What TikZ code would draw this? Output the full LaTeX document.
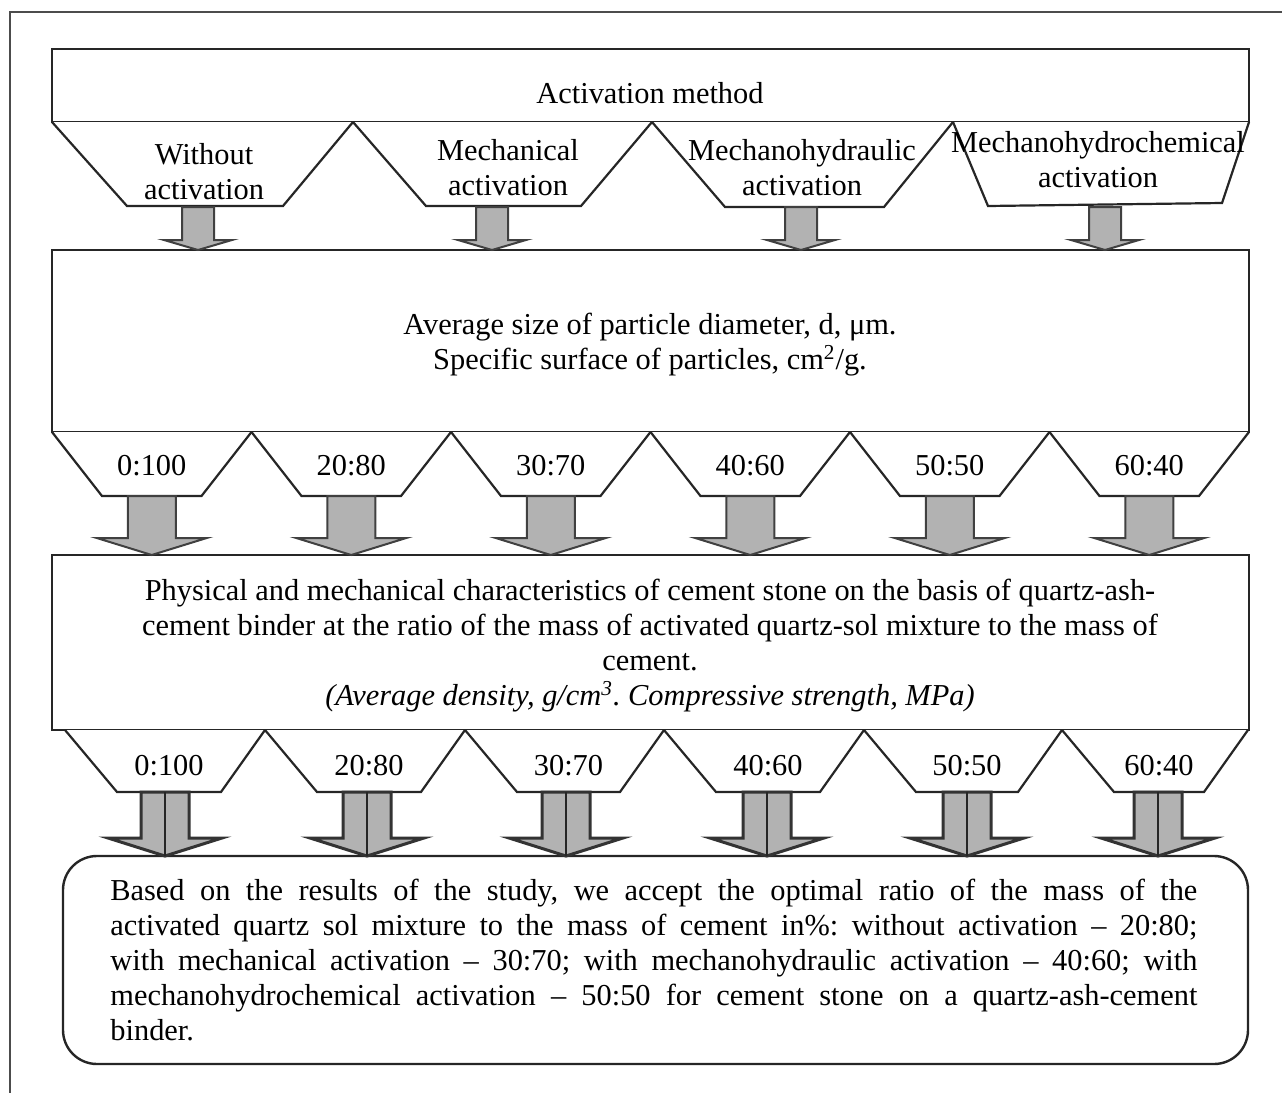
\documentclass[tikz,border=0pt]{standalone}
\usepackage{fontspec}
\setmainfont{Liberation Serif}
\newcommand\barr[7]{\draw[#7] ({#1-#5},#2) -- ({#1+#5},#2) -- ({#1+#5},#3) -- ({#1+#6},#3) -- (#1,#4) -- ({#1-#6},#3) -- ({#1-#5},#3) -- cycle;}
\begin{document}
\frenchspacing
\begin{tikzpicture}[x=0.5pt,y=-0.5pt,
  box/.style={draw=black!85,line width=1.2pt},
  trap/.style={draw=black!85,line width=1.1pt,fill=white,line join=miter},
  arr/.style={draw=black!75,fill=black!30,line width=1pt},
  arrb/.style={draw=black!80,fill=black!30,line width=1.5pt},
  txt/.style={font=\fontsize{15.2}{17.5}\selectfont,align=center,inner sep=0pt},
]
\useasboundingbox (0,0) rectangle (1282,1093);
% outer frame
\draw[black!70,line width=0.8pt] (10,1093) -- (10,12) -- (1282,12);

% box 1
\draw[box] (52,49) rectangle (1249,122);
\node[txt] (am) at (650,93) {Activation method};

% top trapezoids
\draw[trap] (52,122) -- (127,206) -- (283,206) -- (353,122);
\draw[trap] (353,122) -- (426,206) -- (581,206) -- (652,122);
\draw[trap] (652,122) -- (725,207) -- (884,207) -- (953,122);
\draw[trap] (953,122) -- (988,206) -- (1222,203) -- (1249,122);
\node[txt] (t1) at (204,172) {Without\\activation};
\node[txt] (t2) at (508,168) {Mechanical\\activation};
\node[txt] (t3) at (802,168) {Mechanohydraulic\\activation};
\node[txt] (t4) at (1098,160) {Mechanohydrochemical\\activation};

% box 2
\draw[box] (52,250) rectangle (1249,432);
\node[txt] (ps) at (650,345) {Average size of particle diameter, d, μm.\\Specific surface of particles, cm\textsuperscript{2}/g.};

% middle trapezoids
\foreach \i/\lab in {0/0:100,1/20:80,2/30:70,3/40:60,4/50:50,5/60:40}{
  \pgfmathsetmacro\a{52+199.5*\i}
  \pgfmathsetmacro\b{52+199.5*(\i+1)}
  \pgfmathsetmacro\c{52+199.5*(\i+0.5)}
  \draw[trap] (\a,432) -- ({\a+50},496) -- ({\b-50},496) -- (\b,432);
  \node[txt] (m\i) at (\c,466) {\lab};
}

% box 3
\draw[box] (52,555) rectangle (1249,730);
\node[txt] (pm) at (650,646) {Physical and mechanical characteristics of cement stone on the basis of quartz-ash-\\
cement binder at the ratio of the mass of activated quartz-sol mixture to the mass of\\
cement.\\
\textit{(Average density, g/cm\textsuperscript{3}. Compressive strength, MPa)}};

% bottom trapezoids
\foreach \a/\b/\lab/\i in {65/265/0:100/0,265/465/20:80/1,465/664/30:70/2,664/864/40:60/3,864/1062/50:50/4,1062/1248/60:40/5}{
  \draw[trap] (\a,730) -- ({\a+52},792) -- ({\b-44},792) -- (\b,730);
  \node[txt] (b\i) at ({(\a+\b)/2+4},766) {\lab};
}

% bottom rounded box
\draw[box,rounded corners=17pt] (63,856) rectangle (1248,1064);
\node[txt,anchor=north west,text width=543.5pt,align=justify] (res) at (110,879)
{\spaceskip=0.25em plus 1em minus 0.12em\tolerance=10000\hyphenpenalty=10000
Based on the results of the study, we accept the optimal ratio of the mass of the\linebreak
activated quartz sol mixture to the mass of cement in\%: without activation – 20:80;\linebreak
with mechanical activation – 30:70; with mechanohydraulic activation – 40:60; with\linebreak
mechanohydrochemical activation – 50:50 for cement stone on a quartz-ash-cement\linebreak
binder.};

% top arrows
\foreach \x in {198,492,801,1105}{\barr{\x}{207}{240}{250}{16}{34}{arr}}

% middle arrows
\foreach \i in {0,...,5}{
  \pgfmathsetmacro\c{52+199.5*(\i+0.5)}
  \barr{\c}{496}{538}{555}{24}{55}{arr}
}

% bottom double arrows
\foreach \x in {165,367,566,767,967,1158}{
  \barr{\x}{792}{838}{856}{24}{57}{arrb}
  \draw[black!85,line width=0.8pt] (\x,792) -- (\x,856);
}
\end{tikzpicture}
\end{document}
